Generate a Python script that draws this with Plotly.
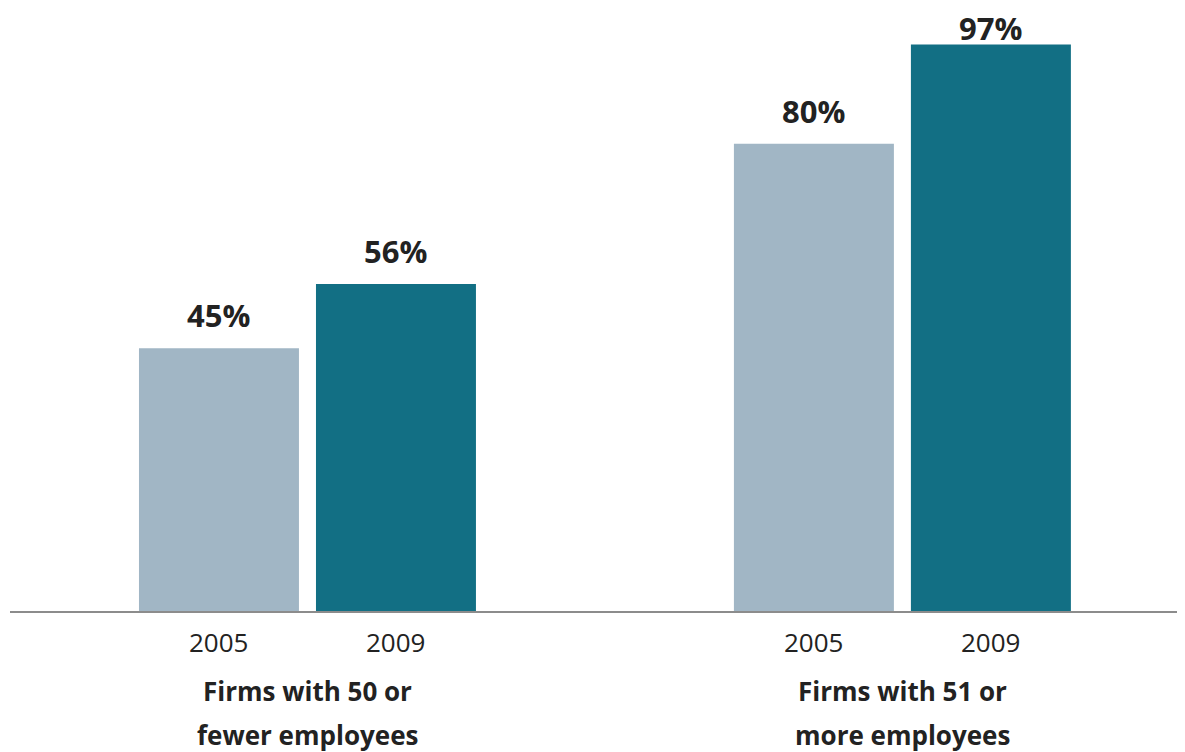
import plotly.graph_objects as go

groups_line1 = ["Firms with 50 or", "Firms with 51 or"]
groups_line2 = ["fewer employees", "more employees"]
years = ["2005", "2009"]
values_2005 = [45, 80]
values_2009 = [56, 97]

colors = {"2005": "#A1B6C5", "2009": "#126F84"}
FONT = "Open Sans"

bar_w = 0.2689
offsets = {"2005": -0.2832, "2009": 0.0143}
series = {"2005": values_2005, "2009": values_2009}

PLOT_H = 584          # plot-area height in px
Y_MAX = 100
LABEL_GAP = 33        # px from bar top to label centre
TOP_ROOM = -1         # label centre may sit this far above the plot top


def label_shift(v):
    room = (Y_MAX - v) * PLOT_H / Y_MAX + TOP_ROOM
    return min(LABEL_GAP, room)


fig = go.Figure()
annotations = []
for yr in years:
    fig.add_trace(go.Bar(
        x=list(range(len(groups_line1))), y=series[yr],
        width=bar_w, offset=offsets[yr],
        marker=dict(color=colors[yr], line=dict(width=0)),
        showlegend=False,
        hoverinfo="skip",
    ))
    for gi, v in enumerate(series[yr]):
        annotations.append(dict(
            x=gi + offsets[yr] + bar_w / 2, y=v, xref="x", yref="y",
            text=f"<b>{v}%</b>", showarrow=False, yanchor="middle",
            yshift=label_shift(v),
            font=dict(family=FONT, size=31, color="#222222"),
        ))

for gi in range(len(groups_line1)):
    for yr in years:
        annotations.append(dict(
            x=gi + offsets[yr] + bar_w / 2, y=0, xref="x", yref="paper",
            text=yr, showarrow=False, yanchor="middle", yshift=-31,
            font=dict(family=FONT, size=26, color="#222222"),
        ))
    for li, line in enumerate([groups_line1[gi], groups_line2[gi]]):
        annotations.append(dict(
            x=gi, y=0, xref="x", yref="paper",
            text=f"<b>{line}</b>", showarrow=False, yanchor="middle",
            yshift=-80 - 44 * li,
            font=dict(family=FONT, size=26, color="#222222"),
        ))

# page body has an 8px margin: figure is sized to fill the remaining window
fig.update_layout(
    width=1177, height=744,
    margin=dict(l=2, r=0, t=19, b=141),
    plot_bgcolor="white", paper_bgcolor="white",
    barmode="overlay",
    annotations=annotations,
    xaxis=dict(range=[-0.5, 1.475], showticklabels=False, ticks="",
               showgrid=False, zeroline=False, showline=True,
               linecolor="#8C8C8C", linewidth=2, fixedrange=True),
    yaxis=dict(range=[0, Y_MAX], visible=False, fixedrange=True),
)

fig.write_html("out.html")
